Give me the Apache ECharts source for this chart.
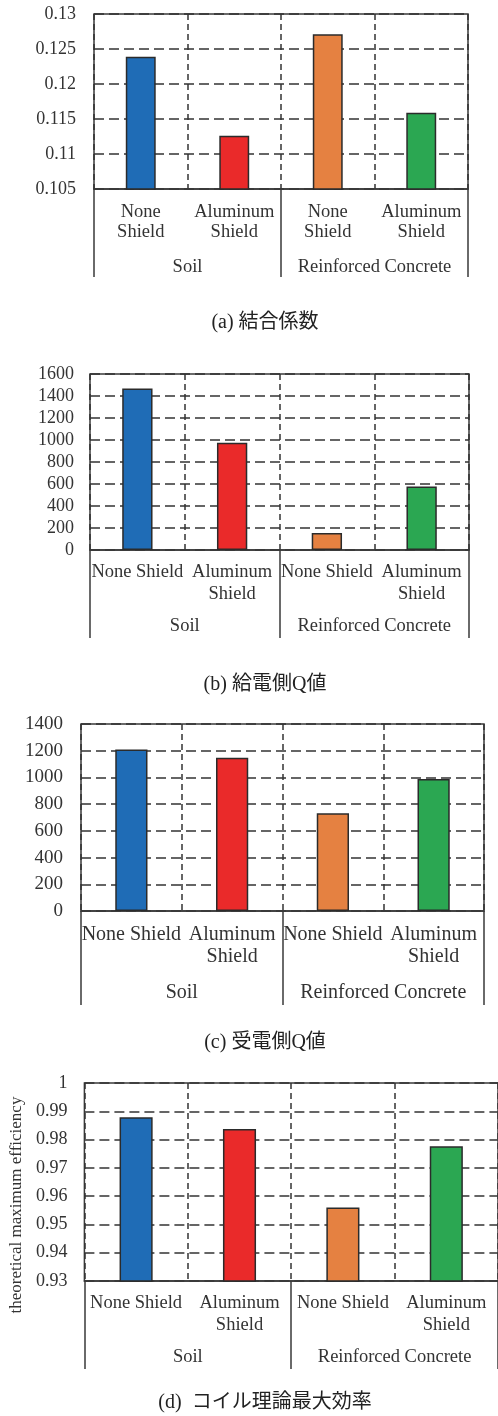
<!DOCTYPE html>
<html>
<head>
<meta charset="utf-8">
<script src="https://cdn.jsdelivr.net/npm/echarts@6/dist/echarts.min.js"></script>
<style>
html,body{margin:0;padding:0;background:#fff;}
#chart{width:498px;height:1416px;}
</style>
</head>
<body>
<div id="chart"></div>
<script>
// ---- data ----
var categoriesA = ['None\nShield', 'Aluminum\nShield', 'None\nShield', 'Aluminum\nShield'];
var categoriesB = ['None Shield', 'Aluminum\nShield', 'None Shield', 'Aluminum\nShield'];
var groups = ['Soil', 'Reinforced Concrete'];
var barColors = ['#1f6cb6', '#ea2a2a', '#e58141', '#2ba752'];

var couplingValues = [0.1239, 0.1126, 0.1271, 0.1159];
var txQValues = [1468, 976, 155, 577];
var rxQValues = [1210, 1147, 732, 988];
var efficiencyValues = [0.9879, 0.9837, 0.9560, 0.9776];

var ticksA = [0.105, 0.11, 0.115, 0.12, 0.125, 0.13];
var ticksB = [0, 200, 400, 600, 800, 1000, 1200, 1400, 1600];
var ticksC = [0, 200, 400, 600, 800, 1000, 1200, 1400];
var ticksD = [0.93, 0.94, 0.95, 0.96, 0.97, 0.98, 0.99, 1];

var captions = ['(a) 結合係数', '(b) 給電側Q値', '(c) 受電側Q値', '(d)  コイル理論最大効率'];
var yNameD = 'theoretical maximum efficiency';

// ---- layout ----
var SERIF = "'Liberation Serif', 'Times New Roman', serif";
var panels = [
  {cats: categoriesA, vals: couplingValues, ticks: ticksA, dec: 3,
   left: 94, width: 374, top: 14, height: 175, fs: 18.5, tfs: 18, lh: 20, lm: 13, gm: 68, tl: 88, ym: 18, cy: 323},
  {cats: categoriesB, vals: txQValues, ticks: ticksB, dec: 0,
   left: 90, width: 379, top: 374, height: 176, fs: 18.5, tfs: 18, lh: 22, lm: 11, gm: 66, tl: 88, ym: 16, cy: 685},
  {cats: categoriesB, vals: rxQValues, ticks: ticksC, dec: 0,
   left: 81, width: 403, top: 724, height: 187, fs: 20, tfs: 19, lh: 22, lm: 13, gm: 72, tl: 94, ym: 18, cy: 1043},
  {cats: categoriesB, vals: efficiencyValues, ticks: ticksD, dec: 2,
   left: 83, width: 418, top: 1083, height: 198, fs: 18.5, tfs: 18, lh: 22, lm: 11, gm: 66, tl: 88, ym: 17, cy: 1403, yName: yNameD}
];

var grid = [], xAxis = [], yAxis = [], series = [], graphic = [];
panels.forEach(function (p, i) {
  grid.push({left: p.left, top: p.top, width: p.width, height: p.height,
    show: true, borderColor: '#3a3a3a', borderWidth: 1.5, backgroundColor: 'transparent'});
  var interval = +(p.ticks[1] - p.ticks[0]).toFixed(6);
  xAxis.push({
    type: 'category', gridIndex: i, data: p.cats, position: 'bottom',
    axisLine: {show: true, lineStyle: {color: '#3a3a3a', width: 1.5}},
    axisTick: {show: false},
    axisLabel: {interval: 0, margin: p.lm, color: '#333', fontFamily: SERIF, fontSize: p.fs, lineHeight: p.lh},
    splitLine: {show: true, lineStyle: {color: '#333', width: 1.5, type: [6, 4]}}
  });
  xAxis.push({
    type: 'category', gridIndex: i, data: groups, position: 'bottom',
    axisLine: {show: false},
    axisTick: {show: true, length: p.tl, lineStyle: {color: '#3a3a3a', width: 1.5}},
    axisLabel: {interval: 0, margin: p.gm, color: '#333', fontFamily: SERIF, fontSize: p.fs, lineHeight: 20},
    splitLine: {show: false}
  });
  var ya = {
    type: 'value', gridIndex: i,
    min: p.ticks[0], max: p.ticks[p.ticks.length - 1], interval: interval,
    axisLine: {show: false}, axisTick: {show: false},
    axisLabel: {margin: p.ym, color: '#333', fontFamily: SERIF, fontSize: p.tfs,
      formatter: function (v) { return String(+(+v).toFixed(p.dec)); }},
    splitLine: {show: true, lineStyle: {color: '#333', width: 1.5, type: [10, 5]}}
  };
  if (p.yName) {
    ya.name = p.yName;
    ya.nameLocation = 'middle';
    ya.nameRotate = 90;
    ya.nameGap = 59;
    ya.nameTextStyle = {fontFamily: SERIF, fontSize: 17, color: '#333', padding: [0, 46, 0, 0]};
  }
  yAxis.push(ya);
  series.push({
    type: 'bar', xAxisIndex: i * 2, yAxisIndex: i, barWidth: '32%',
    data: p.vals.map(function (v, k) {
      return {value: v, itemStyle: {color: barColors[k], borderColor: '#2b2b2b', borderWidth: 1.5}};
    }),
    silent: true, animation: false
  });
  graphic.push({
    type: 'text', x: 265, y: p.cy,
    style: {text: captions[i], textAlign: 'center', textVerticalAlign: 'middle',
      font: "20px 'Liberation Serif', 'Noto Sans CJK JP', serif", fill: '#222'}
  });
});

var chart = echarts.init(document.getElementById('chart'), null, {renderer: 'canvas'});
chart.setOption({animation: false, grid: grid, xAxis: xAxis, yAxis: yAxis, series: series, graphic: graphic});
</script>
</body>
</html>
